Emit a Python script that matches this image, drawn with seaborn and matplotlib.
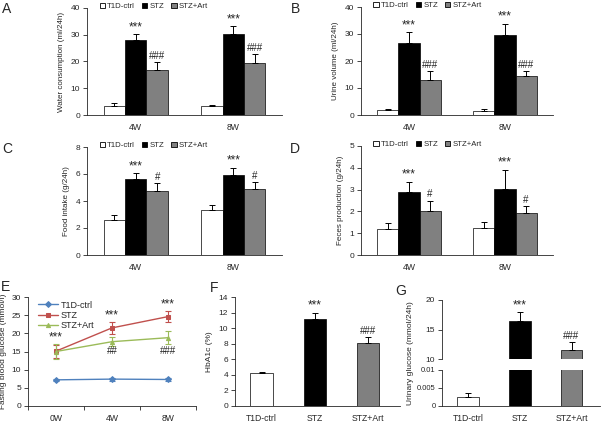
import numpy as np
import pandas as pd
import matplotlib
matplotlib.use('Agg')
import matplotlib.pyplot as plt
from matplotlib.patches import Patch
from matplotlib.container import BarContainer
import seaborn as sns

sns.set_theme(style='ticks')
plt.rcParams['font.family'] = ['Liberation Sans', 'DejaVu Sans']
plt.rcParams['axes.linewidth'] = 0.6
plt.rcParams['xtick.major.width'] = 0.6
plt.rcParams['ytick.major.width'] = 0.6
plt.rcParams['xtick.minor.width'] = 0.6
plt.rcParams['ytick.major.size'] = 3
plt.rcParams['xtick.labelsize'] = 6.2
plt.rcParams['ytick.labelsize'] = 6

# grupos e cores
groups = ['T1D-ctrl', 'STZ', 'STZ+Art']
bar_colors = ['white', 'black', '#808080']
line_colors = ['#4F81BD', '#C0504D', '#9BBB59']
weeks = ['4W', '8W']
weeks_e = ['0W', '4W', '8W']

# A - consumo de água (linhas = grupos, colunas = semanas)
water_mean = [[3.2, 3.3], [28.0, 30.2], [17.0, 19.5]]
water_err = [[1.3, 0.6], [2.2, 3.0], [2.7, 3.2]]
water_sig = [['', ''], ['***', '***'], ['###', '###']]

# B - volume de urina
urine_mean = [[1.9, 1.5], [26.8, 29.5], [13.0, 14.4]]
urine_err = [[0.3, 0.7], [3.8, 4.3], [3.2, 1.8]]
urine_sig = [['', ''], ['***', '***'], ['###', '###']]

# C - ingestão de comida
food_mean = [[2.6, 3.35], [5.6, 5.9], [4.75, 4.9]]
food_err = [[0.35, 0.35], [0.45, 0.55], [0.55, 0.5]]
food_sig = [['', ''], ['***', '***'], ['#', '#']]

# D - produção de fezes
feces_mean = [[1.17, 1.25], [2.87, 3.02], [2.03, 1.93]]
feces_err = [[0.32, 0.25], [0.48, 0.9], [0.47, 0.3]]
feces_sig = [['', ''], ['***', '***'], ['#', '#']]

# E - glicemia de jejum (linhas = grupos, colunas = 0W/4W/8W)
fbg_mean = [[7.2, 7.4, 7.3], [15.1, 21.5, 24.6], [15.0, 17.7, 18.8]]
fbg_err = [[0.3, 0.4, 0.3], [1.8, 1.6, 1.6], [2.0, 1.3, 1.8]]
fbg_stars = ['***', '***', '***']
fbg_stars_y = [18.8, 25.0, 28.0]
fbg_hash = ['', '##', '###']
fbg_hash_y = [15.2, 15.2, 15.2]

# F - HbA1c
hba1c_mean = [4.2, 11.2, 8.05]
hba1c_err = [0.2, 0.8, 0.8]
hba1c_sig = ['', '***', '###']

# G - glicose urinária (eixo quebrado)
ug_mean = [0.0025, 16.4, 11.6]
ug_err = [0.001, 1.6, 1.3]
ug_sig = ['', '***', '###']

W, H = 604, 426
fig = plt.figure(figsize=(W / 100, H / 100), dpi=100)


def add_ax(l, r, t, b):
    return fig.add_axes([l / W, 1 - b / H, (r - l) / W, (b - t) / H])


def style_ax(ax):
    sns.despine(ax=ax)
    ax.set_xlabel('')
    ax.tick_params(axis='x', length=0, pad=6)
    ax.tick_params(axis='y', pad=2)


def long_df(means, cats):
    rows = []
    for g, row in zip(groups, means):
        for c, m in zip(cats, row):
            rows.append({'cat': c, 'group': g, 'val': m})
    return pd.DataFrame(rows)


def add_err(ax, means, errs, sig, ylim):
    pad = (ylim[1] - ylim[0]) * 0.01
    conts = [c for c in ax.containers if isinstance(c, BarContainer)]
    for gi, cont in enumerate(conts):
        for ci, bar in enumerate(cont):
            m = means[gi][ci]
            if np.isnan(m):
                continue
            x = bar.get_x() + bar.get_width() / 2
            e = errs[gi][ci]
            ax.errorbar([x], [m], yerr=[[0], [e]], fmt='none', ecolor='black',
                        elinewidth=0.7, capsize=2, capthick=0.7)
            if sig[gi][ci]:
                ax.text(x, m + e + pad, sig[gi][ci], ha='center', va='bottom',
                        fontsize=8.5 if '*' in sig[gi][ci] else 7)


def bar_panel(box, means, errs, sig, ylim, yticks, ylabel):
    ax = add_ax(*box)
    df = long_df(means, weeks)
    sns.barplot(data=df, x='cat', y='val', hue='group', hue_order=groups,
                palette=bar_colors, width=0.66, edgecolor='black', linewidth=0.5,
                saturation=1, errorbar=None, legend=False, ax=ax)
    add_err(ax, means, errs, sig, ylim)
    ax.set_xlim(-0.5, 1.5)
    ax.set_ylim(*ylim)
    ax.set_yticks(yticks)
    ax.set_ylabel(ylabel, fontsize=5.8, labelpad=4)
    style_ax(ax)
    handles = [Patch(facecolor=c, edgecolor='black', linewidth=0.6) for c in bar_colors]
    ax.legend(handles, groups, ncol=3, loc='upper left', bbox_to_anchor=(0.065, 1.05),
              frameon=False, fontsize=5.6, handlelength=0.7, handleheight=0.7,
              handletextpad=0.25, columnspacing=0.9, borderaxespad=0, borderpad=0)
    return ax


bar_panel((87, 282, 8, 115), water_mean, water_err, water_sig, (0, 40), [0, 10, 20, 30, 40],
          'Water consumption (ml/24h)')
bar_panel((361, 553, 7, 115), urine_mean, urine_err, urine_sig, (0, 40), [0, 10, 20, 30, 40],
          'Urine volume (ml/24h)')
bar_panel((87, 282, 147, 255), food_mean, food_err, food_sig, (0, 8), [0, 2, 4, 6, 8],
          'Food intake (g/24h)')
bar_panel((361, 553, 146, 255), feces_mean, feces_err, feces_sig, (0, 5), [0, 1, 2, 3, 4, 5],
          'Feces production (g/24h)')

# E - gráfico de linhas
axE = add_ax(28, 196, 297, 406)
dfE = long_df(fbg_mean, weeks_e)
sns.pointplot(data=dfE, x='cat', y='val', hue='group', hue_order=groups,
              palette=line_colors, markers=['D', 's', '^'], linestyles='-',
              errorbar=None, dodge=False, markersize=3, linewidth=1, ax=axE)
xpos = np.arange(len(weeks_e))
for gi, c in enumerate(line_colors):
    axE.errorbar(xpos, fbg_mean[gi], yerr=fbg_err[gi], fmt='none', ecolor=c,
                 elinewidth=0.8, capsize=2, capthick=0.8)
for xi in xpos:
    if fbg_stars[xi]:
        axE.text(xi, fbg_stars_y[xi], fbg_stars[xi], ha='center', va='center', fontsize=8.5)
    if fbg_hash[xi]:
        axE.text(xi, fbg_hash_y[xi], fbg_hash[xi], ha='center', va='center', fontsize=7)
axE.set_xlim(-0.5, 2.5)
axE.set_ylim(0, 30)
axE.set_yticks(range(0, 31, 5))
axE.set_xticks(np.arange(-0.5, 3, 1), minor=True)
axE.tick_params(axis='x', which='minor', length=3, direction='out')
style_ax(axE)
axE.set_ylabel('Fasting blood glucose (mmol/l)', fontsize=6, labelpad=3)
axE.legend(loc='upper left', frameon=False, fontsize=6.5, handlelength=2.2,
           handletextpad=0.3, borderaxespad=0, labelspacing=0.15, bbox_to_anchor=(0.04, 1.0))

# F - HbA1c
axF = add_ax(235, 400, 297, 406)
dfF = pd.DataFrame({'group': groups, 'val': hba1c_mean})
sns.barplot(data=dfF, x='group', y='val', hue='group', hue_order=groups, palette=bar_colors,
            width=0.42, edgecolor='black', linewidth=0.5, saturation=1, errorbar=None,
            legend=False, ax=axF)
add_err(axF, [[m] for m in hba1c_mean], [[e] for e in hba1c_err],
        [[s] for s in hba1c_sig], (0, 14))
axF.set_xlim(-0.5, 2.6)
axF.set_ylim(0, 14)
axF.set_yticks(range(0, 15, 2))
style_ax(axF)
axF.set_ylabel('HbA1c (%)', fontsize=6, labelpad=4)

# G - glicose urinária com eixo quebrado
axG1 = add_ax(442, 600, 300, 359)
axG2 = add_ax(442, 600, 370, 406)
dfG = pd.DataFrame({'group': groups, 'val': ug_mean})
for ax in (axG1, axG2):
    sns.barplot(data=dfG, x='group', y='val', hue='group', hue_order=groups,
                palette=bar_colors, width=0.42, edgecolor='black', linewidth=0.5,
                saturation=1, errorbar=None, legend=False, ax=ax)
    ax.set_xlim(-0.5, 2.55)
    style_ax(ax)
    ax.set_ylabel('')
add_err(axG1, [[m] for m in ug_mean], [[e] for e in ug_err], [[s] for s in ug_sig], (10, 20))
add_err(axG2, [[ug_mean[0]], [np.nan], [np.nan]], [[ug_err[0]], [0], [0]],
        [[''], [''], ['']], (0, 0.01))
axG1.set_ylim(10, 20)
axG1.set_yticks([10, 15, 20])
axG1.spines['bottom'].set_visible(False)
axG1.set_xticks([])
axG2.set_ylim(0, 0.01)
axG2.set_yticks([0, 0.005, 0.01])
axG2.set_yticklabels(['0', '0.005', '0.01'])
axG2.tick_params(axis='y', labelsize=5.5, pad=1.5)
axG1.tick_params(axis='y', pad=2)
fig.text(410 / W, 1 - 353 / H, 'Urinary glucose (mmol/24h)', rotation=90,
         ha='center', va='center', fontsize=6)

# letras dos painéis
for lx, ly, s in [(7, 9, 'A'), (295, 9, 'B'), (7, 149, 'C'), (295, 149, 'D'),
                  (6, 287, 'E'), (214, 288, 'F'), (401, 291, 'G')]:
    fig.text(lx / W, 1 - ly / H, s, fontsize=10, ha='center', va='center')

plt.savefig('out.png', dpi=100)
